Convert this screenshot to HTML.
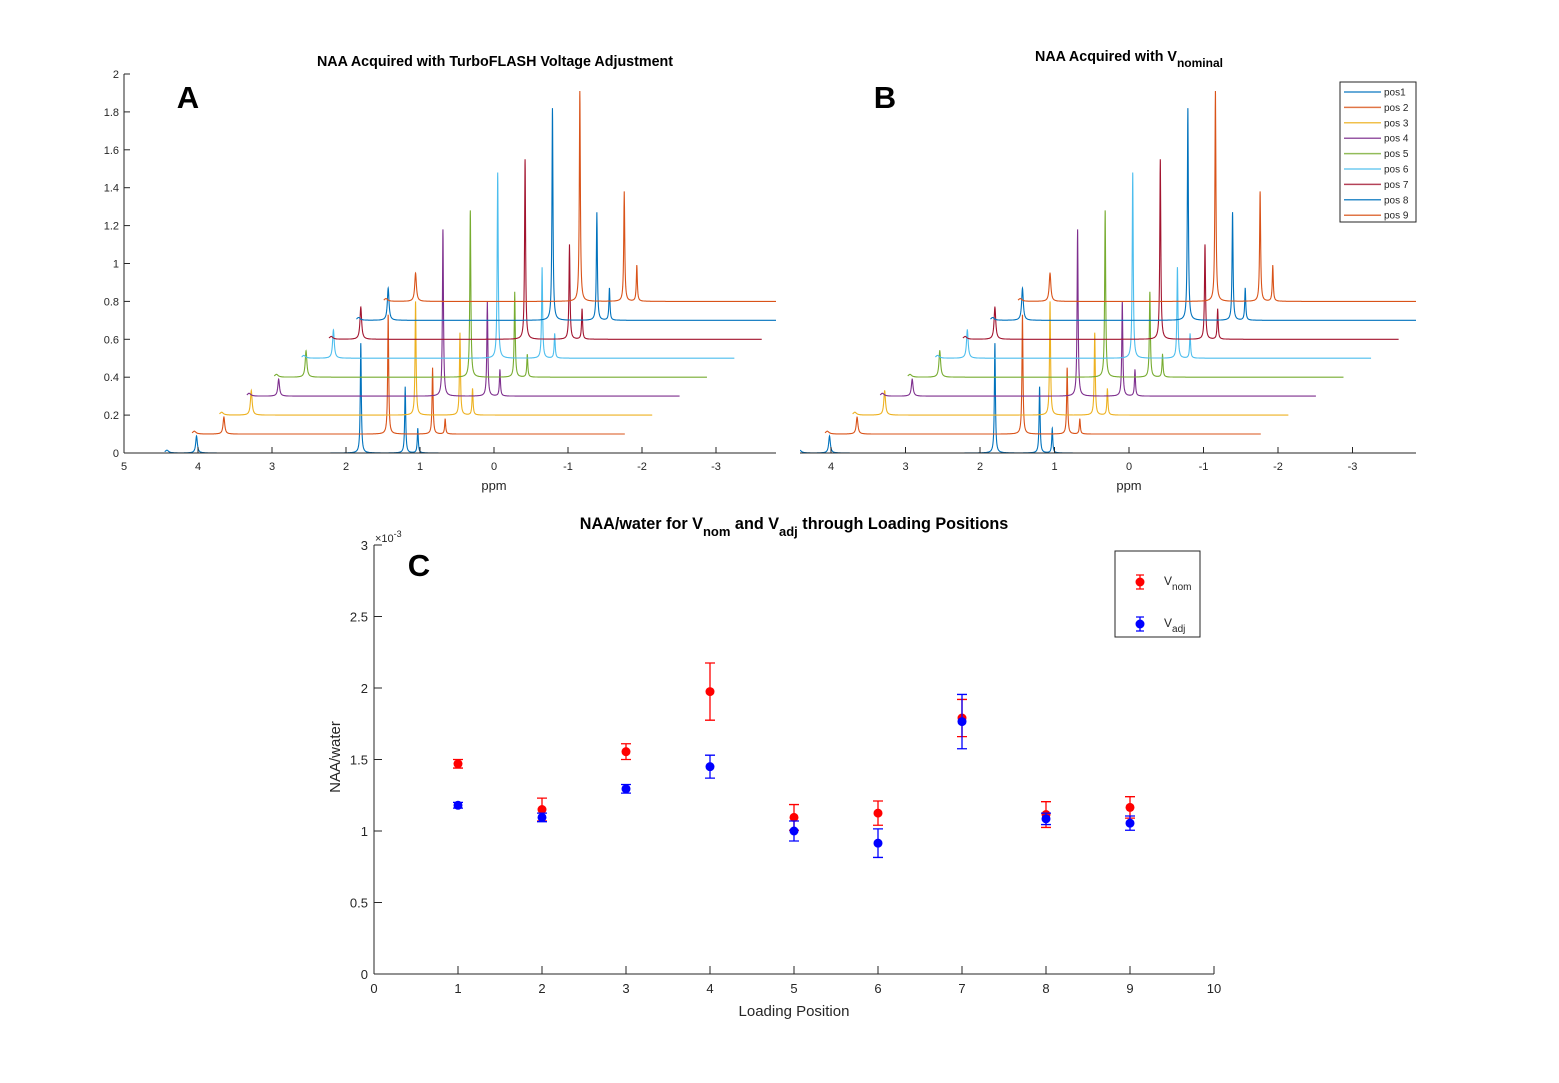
<!DOCTYPE html>
<html><head><meta charset="utf-8"><style>
html,body{margin:0;padding:0;background:#fff;}
svg{display:block;font-family:"Liberation Sans",Arial,sans-serif;}
</style></head><body>
<svg id="fig" width="1559" height="1083" viewBox="0 0 1559 1083" xmlns="http://www.w3.org/2000/svg"></svg>
<script>
// ---- Spectra data (panels A & B) ----
const traceNames = ["pos1","pos 2","pos 3","pos 4","pos 5","pos 6","pos 7","pos 8","pos 9"];
const traceBaselines = [0,0.1,0.2,0.3,0.4,0.5,0.6,0.7,0.8];
const peakPpmPos1 = [4.02,1.80,1.20,1.03];
const ppmShiftPerTrace = 0.37;
const peakHeightsFirst = [0.09,0.19,0.33,0.39,0.54,0.65,0.77,0.87,0.95];
const peakHeightsBig   = [0.58,0.73,0.80,1.18,1.28,1.48,1.55,1.82,1.91];
const peakHeightsMid   = [0.35,0.45,0.635,0.80,0.85,0.98,1.10,1.27,1.38];
const peakHeightsSmall = [0.13,0.18,0.34,0.44,0.52,0.63,0.76,0.87,0.99];
const traceStartPpm = 4.45;
const traceSpanPpm = 5.85;
const colors = ["#0072BD","#D95319","#EDB120","#7E2F8E","#77AC30","#4DBEEE","#A2142F","#0072BD","#D95319"];
const yTicksA = [0,0.2,0.4,0.6,0.8,1,1.2,1.4,1.6,1.8,2];
const xTicksA = [5,4,3,2,1,0,-1,-2,-3];
const xTicksB = [4,3,2,1,0,-1,-2,-3];

// ---- Panel C data ----
const positions = [1,2,3,4,5,6,7,8,9];
const vNom    = [1.47,1.15,1.555,1.975,1.095,1.125,1.79,1.115,1.165];
const vNomErr = [0.03,0.08,0.055,0.20,0.09,0.085,0.13,0.09,0.075];
const vAdj    = [1.18,1.095,1.295,1.45,1.0,0.915,1.765,1.085,1.055];
const vAdjErr = [0.02,0.03,0.03,0.08,0.07,0.10,0.19,0.04,0.05];
const yTicksC = [0,0.5,1,1.5,2,2.5,3];
const xTicksC = [0,1,2,3,4,5,6,7,8,9,10];

const NS="http://www.w3.org/2000/svg";
const svg=document.getElementById('fig');
function mk(tag,attrs,parent){const e=document.createElementNS(NS,tag);for(const k in attrs)e.setAttribute(k,attrs[k]);(parent||svg).appendChild(e);return e;}
function txt(s,attrs,parent){const e=mk('text',attrs,parent);e.textContent=s;return e;}

function spectrumPanel(name,ppmZeroX,ppmPx,xLeft,xRight,showY,ticks){
  const g=mk('g',{});
  
  
  const y0=453, yPx=189.5;
  const X=p=>ppmZeroX-p*ppmPx, Y=v=>y0-v*yPx;
  const clip=mk('clipPath',{id:'clip-'+name},g);
  mk('rect',{x:xLeft,y:60,width:xRight-xLeft,height:400},clip);
  const tg=mk('g',{'clip-path':'url(#clip-'+name+')'},g);
  for(let k=0;k<traceNames.length;k++){
    const sh=k*ppmShiftPerTrace;
    const pk=peakPpmPos1.map(p=>p-sh);
    const hs=[peakHeightsFirst[k],peakHeightsBig[k],peakHeightsMid[k],peakHeightsSmall[k]].map(h=>h-traceBaselines[k]);
    const base=traceBaselines[k];
    const xs=X(traceStartPpm-sh), xe=X(traceStartPpm-sh-traceSpanPpm);
    const pts=[];
    for(let x=xs;x<=xe;x+=0.25)pts.push(x);
    pk.forEach(p=>pts.push(X(p)));
    pts.sort((a,b)=>a-b);
    let d='';
    pts.forEach(x=>{
      let v=base;
      for(let i=0;i<4;i++){const dx=x-X(pk[i]);const w=i===0?1.0:0.6;v+=hs[i]/(1+(dx/w)*(dx/w));}
      const dh=x-X(traceStartPpm-sh-0.03);v+=0.015/(1+(dh/2)*(dh/2));
      d+=(d?'L':'M')+x.toFixed(2)+','+Y(v).toFixed(1);
    });
    const p=mk('path',{d:d,fill:'none',stroke:colors[k],'stroke-width':1.1},tg);
    
    
  }
  mk('line',{x1:xLeft,y1:y0,x2:xRight,y2:y0,stroke:'#262626','stroke-width':1},g);
  ticks.forEach(t=>{const x=X(t);mk('line',{x1:x,y1:y0,x2:x,y2:y0-6,stroke:'#262626'},g);
    txt(String(t),{x:x,y:y0+17,'font-size':11,'text-anchor':'middle',fill:'#262626'},g);});
  txt('ppm',{x:X(0),y:y0+37,'font-size':13,'text-anchor':'middle',fill:'#262626'},g);
  if(showY){
    mk('line',{x1:xLeft,y1:y0,x2:xLeft,y2:74,stroke:'#262626'},g);
    yTicksA.forEach(t=>{const y=Y(t);mk('line',{x1:xLeft,y1:y,x2:xLeft+6,y2:y,stroke:'#262626'},g);
      txt(String(t),{x:xLeft-5,y:y+4,'font-size':11,'text-anchor':'end',fill:'#262626'},g);});
  }
  return g;
}
spectrumPanel('panel-a-spectra',494,74,124,776,true,xTicksA);
spectrumPanel('panel-b-spectra',1129,74.5,800,1416,false,xTicksB);

let t=txt('NAA Acquired with TurboFLASH Voltage Adjustment',{x:495,y:66,'font-size':14.3,'font-weight':'bold','text-anchor':'middle',fill:'#000'});

t=mk('text',{x:1129,y:61,'font-size':14.3,'font-weight':'bold','text-anchor':'middle',fill:'#000'});
t.innerHTML='NAA Acquired with V<tspan dy="6" font-size="12">nominal</tspan>';

[['A',188,108],['B',885,108],['C',419,576]].forEach(a=>{const e=txt(a[0],{x:a[1],y:a[2],'font-size':31,'font-weight':'bold','text-anchor':'middle',fill:'#000'});
  });

const lg=mk('g',{});


mk('rect',{x:1340,y:82,width:76,height:140,fill:'#fff',stroke:'#262626','stroke-width':1},lg);
traceNames.forEach((n,i)=>{const y=92+i*15.4;
  mk('line',{x1:1344,y1:y,x2:1381,y2:y,stroke:colors[i],'stroke-width':1.5,opacity:0.8},lg);
  const e=txt(n,{x:1384,y:y+3.5,'font-size':10,fill:'#262626'},lg);
  
  });

const gc=mk('g',{});


const cx0=374,cx1=1214,cy0=974,cyPx=143;
const CX=v=>cx0+v*(cx1-cx0)/10, CY=v=>cy0-v*cyPx;
mk('line',{x1:cx0,y1:cy0,x2:cx1,y2:cy0,stroke:'#262626'},gc);
mk('line',{x1:cx0,y1:cy0,x2:cx0,y2:CY(3),stroke:'#262626'},gc);
xTicksC.forEach(v=>{const x=CX(v);mk('line',{x1:x,y1:cy0,x2:x,y2:cy0-8,stroke:'#262626'},gc);
  txt(String(v),{x:x,y:cy0+19,'font-size':13,'text-anchor':'middle',fill:'#262626'},gc);});
yTicksC.forEach(v=>{const y=CY(v);mk('line',{x1:cx0,y1:y,x2:cx0+8,y2:y,stroke:'#262626'},gc);
  txt(String(v),{x:cx0-6,y:y+5,'font-size':13,'text-anchor':'end',fill:'#262626'},gc);});
t=mk('text',{x:375,y:542,'font-size':11,fill:'#262626'},gc);
t.innerHTML='&#215;10<tspan dy="-5" font-size="9">-3</tspan>';
t=txt('Loading Position',{x:794,y:1016,'font-size':15,'text-anchor':'middle',fill:'#262626'},gc);

t=txt('NAA/water',{x:0,y:0,'font-size':15,'text-anchor':'middle',fill:'#262626',transform:'translate(340,757) rotate(-90)'},gc);

t=mk('text',{x:794,y:529,'font-size':16.2,'font-weight':'bold','text-anchor':'middle',fill:'#000'},gc);
t.innerHTML='NAA/water for V<tspan dy="7" font-size="13">nom</tspan><tspan dy="-7"> and V</tspan><tspan dy="7" font-size="13">adj</tspan><tspan dy="-7"> through Loading Positions</tspan>';


function series(vals,errs,col,nm){
  positions.forEach((p,i)=>{
    const x=CX(p),y=CY(vals[i]),yt=CY(vals[i]+errs[i]),yb=CY(vals[i]-errs[i]);
    const eb=mk('path',{d:`M${x},${yt}L${x},${yb}M${x-5},${yt}L${x+5},${yt}M${x-5},${yb}L${x+5},${yb}`,stroke:col,'stroke-width':1.3,fill:'none'},gc);
    
    
    const c=mk('circle',{cx:x,cy:y,r:4.5,fill:col},gc);
    
    
  });
}
series(vNom,vNomErr,'#ff0000','vnom');
series(vAdj,vAdjErr,'#0000ff','vadj');

const lc=mk('g',{});


mk('rect',{x:1115,y:551,width:85,height:86,fill:'#fff',stroke:'#262626'},lc);
[['#ff0000','nom',582],['#0000ff','adj',624]].forEach(a=>{
  mk('path',{d:`M1140,${a[2]-7}L1140,${a[2]+7}M1136,${a[2]-7}L1144,${a[2]-7}M1136,${a[2]+7}L1144,${a[2]+7}`,stroke:a[0],'stroke-width':1.3},lc);
  mk('circle',{cx:1140,cy:a[2],r:4.5,fill:a[0]},lc);
  const e=mk('text',{x:1164,y:a[2]+3,'font-size':12,fill:'#262626'},lc);
  e.innerHTML='V<tspan dy="5" font-size="10">'+a[1]+'</tspan>';
  
  
});
</script>
</body></html>
